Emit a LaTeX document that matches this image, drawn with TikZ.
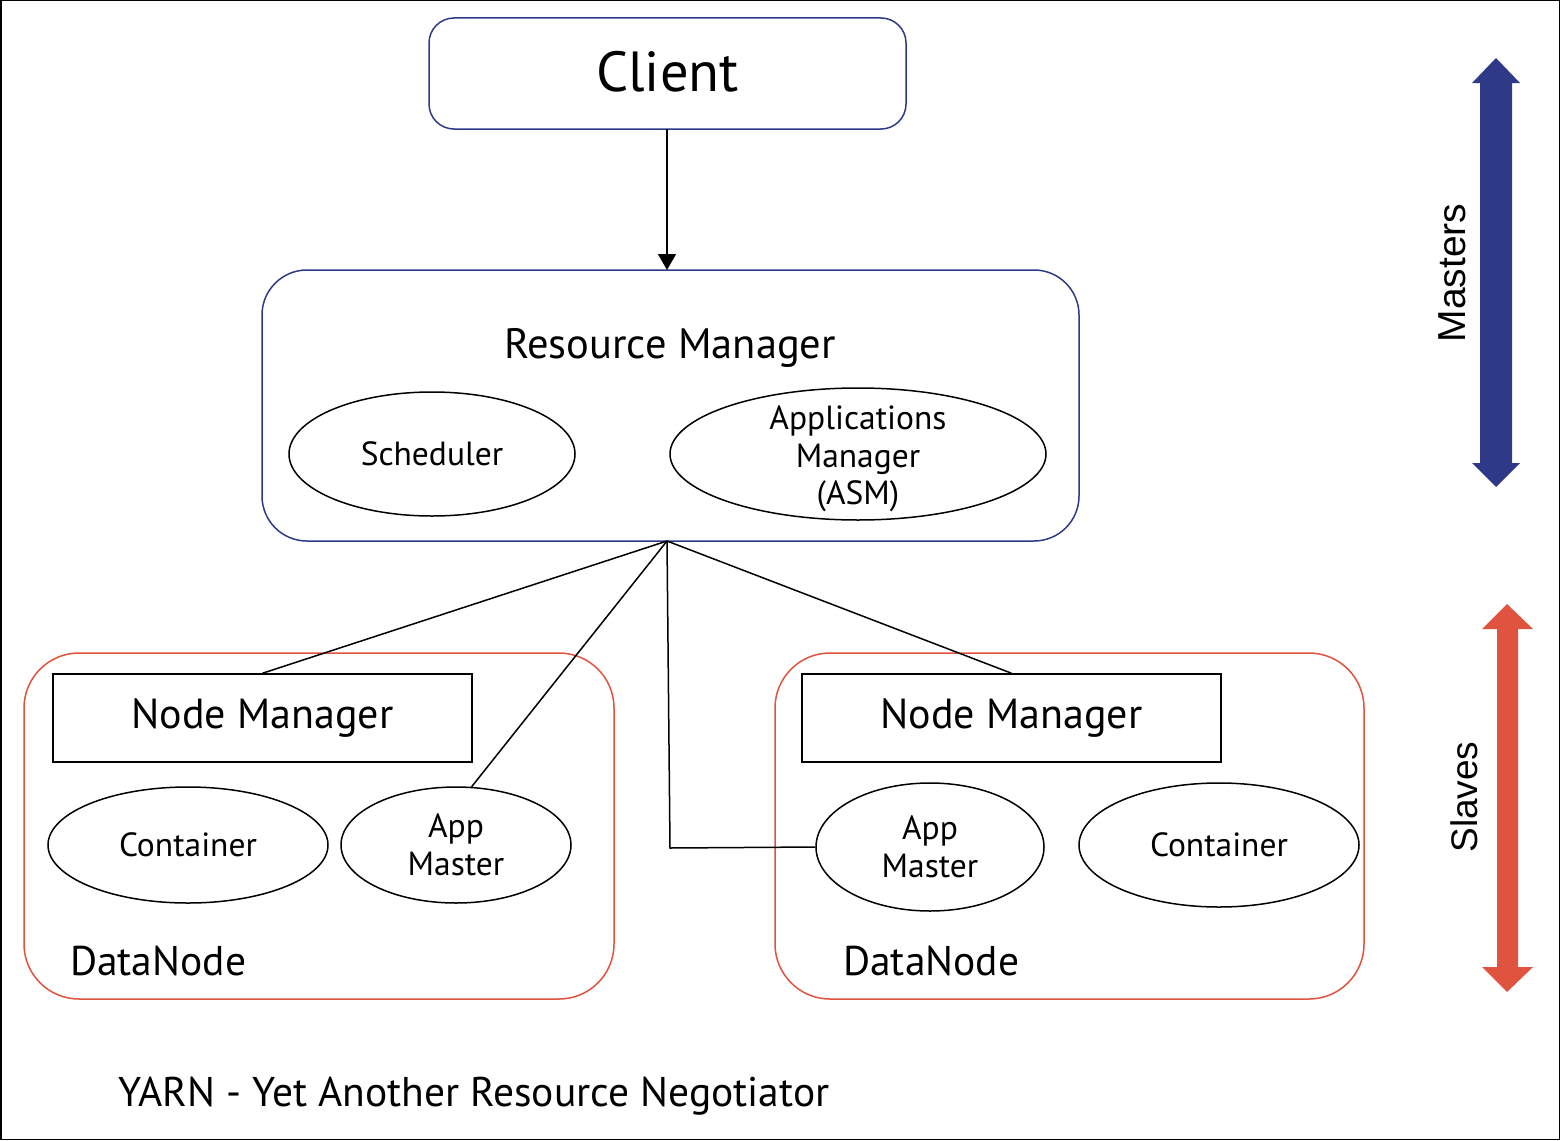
\documentclass[tikz,border=0pt]{standalone}
\usepackage{fontspec}
\setmainfont{PT Sans}
\newfontfamily\helv{Liberation Sans}
\usetikzlibrary{shapes.geometric,arrows.meta}
\definecolor{navy}{HTML}{2E3A87}
\definecolor{redc}{HTML}{E0533F}
\begin{document}
\begin{tikzpicture}[x=1pt,y=-1pt,
  master/.style={draw=navy,line width=1.5pt,rounded corners=#1},
  dnode/.style={draw=redc,line width=1.5pt,rounded corners=55pt},
  oval/.style={ellipse,draw=black,line width=1.5pt,inner sep=0pt,align=center,font=\fontsize{33.5}{38}\selectfont},
  nmbox/.style={draw=black,line width=1.5pt,inner sep=0pt,font=\fontsize{42}{48}\selectfont},
  conn/.style={draw=black,line width=1.5pt}
]
\useasboundingbox (0,0) rectangle (1560,1140);
\draw[line width=1.5pt] (0.75,0.75) rectangle (1559.25,1139.25);

% Client
\draw[master=25pt] (429,18) rectangle (906,129);
\node[font=\fontsize{56.5}{64}\selectfont] (client) at (667.5,72) {Client};
\coordinate (clientS) at (667,129);

% Resource Manager
\draw[master=45pt] (262,270) rectangle (1079,541);
\coordinate (rmN) at (667,270);
\coordinate (hub) at (667,541);
\node[font=\fontsize{42.5}{48}\selectfont] (rmlabel) at (670,348) {Resource Manager};
\node[oval,minimum width=286pt,minimum height=124pt] (sched) at (432,454) {Scheduler};
\node[oval,minimum width=376pt,minimum height=132pt] (asm) at (858,454) {};
\node[align=center,inner sep=0pt,font=\fontsize{33.5}{37.5}\selectfont] (asmtext) at (858,459) {Applications\\Manager\\(ASM)};

\draw[conn,-{Triangle[length=16pt,width=18pt]}] (clientS) -- (rmN);

% DataNodes
\draw[dnode] (24,653) rectangle (614,999);
\draw[dnode] (775,653) rectangle (1364,999);

\node[nmbox,minimum width=419pt,minimum height=88pt] (nm1) at (262.5,718) {Node Manager};
\node[nmbox,minimum width=419pt,minimum height=88pt] (nm2) at (1011.5,718) {Node Manager};

\node[oval,minimum width=280pt,minimum height=116pt] (cont1) at (188,845) {Container};
\node[oval,minimum width=230pt,minimum height=116pt] (am1) at (456,845) {App\\Master};
\node[oval,minimum width=228pt,minimum height=128pt] (am2) at (930,847) {App\\Master};
\node[oval,minimum width=280pt,minimum height=124pt] (cont2) at (1219,845) {Container};

\node[anchor=west,inner sep=0pt,font=\fontsize{41.5}{46}\selectfont] (dn1) at (70,961) {DataNode};
\node[anchor=west,inner sep=0pt,font=\fontsize{41.5}{46}\selectfont] (dn2) at (843,961) {DataNode};

% connectors
\draw[conn] (hub) -- (nm1.north);
\draw[conn] (hub) -- (am1.75);
\draw[conn] (hub) -- (670,848) -- (am2.west);
\draw[conn] (hub) -- (nm2.north);

% Masters arrow
\fill[navy] (1496,58) -- (1520,83) -- (1512,83) -- (1512,463) -- (1520,463) -- (1496,487) -- (1472,463) -- (1480,463) -- (1480,83) -- (1472,83) -- cycle;
\node[rotate=90,font=\helv\fontsize{39}{46}\selectfont] (masters) at (1452,273) {Masters};

% Slaves arrow
\fill[redc] (1507,604) -- (1533,629) -- (1518,629) -- (1518,967) -- (1533,967) -- (1507,992) -- (1482,967) -- (1497,967) -- (1497,629) -- (1482,629) -- cycle;
\node[rotate=90,font=\helv\fontsize{37}{44}\selectfont] (slaves) at (1464,797) {Slaves};

% caption
\node[anchor=west,inner sep=0pt,font=\fontsize{41.5}{48}\selectfont] (caption) at (118,1096) {YARN - Yet Another Resource Negotiator};
\end{tikzpicture}
\end{document}
